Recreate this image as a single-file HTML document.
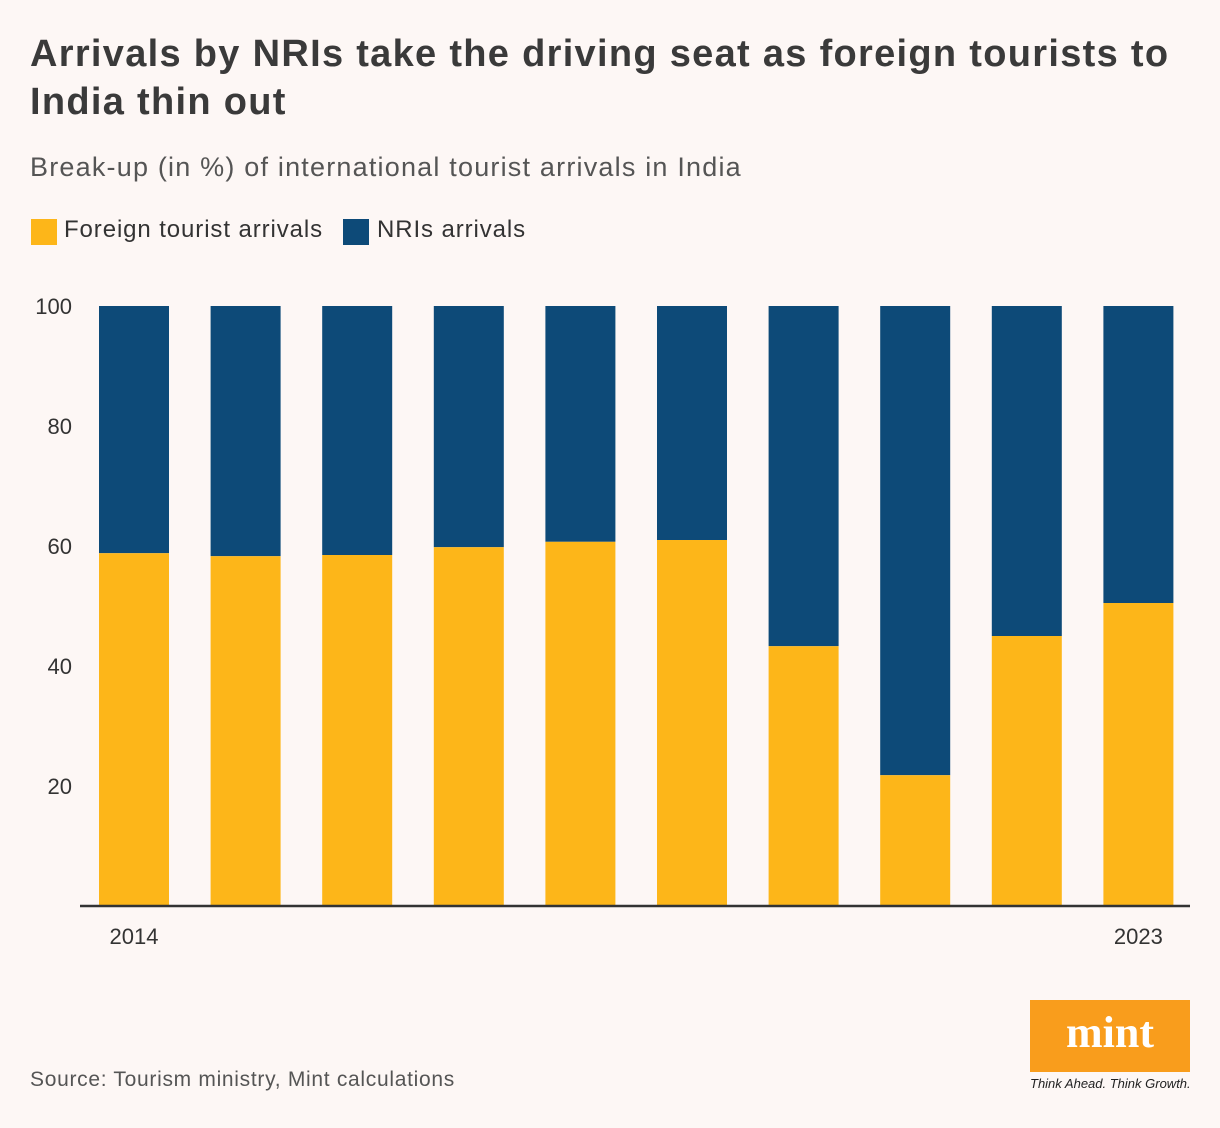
<!DOCTYPE html>
<html><head><meta charset="utf-8"><style>
body{margin:0;background:#fdf7f5;}
#root{position:relative;width:1220px;height:1128px;background:#fdf7f5;font-family:"Liberation Sans",sans-serif;color:#333;overflow:hidden}
.t{position:absolute;white-space:nowrap}
</style></head><body>
<div id="root">
<div class="t" style="left:30px;top:30px;font-size:38px;font-weight:bold;line-height:48px;color:#3a3a3a;letter-spacing:1.3px">Arrivals by NRIs take the driving seat as foreign tourists to<br>India thin out</div>
<div class="t" style="left:30px;top:152px;font-size:27px;color:#555;letter-spacing:1.2px">Break-up (in %) of international tourist arrivals in India</div>
<div style="position:absolute;left:31px;top:219px;width:26px;height:26px;background:#fdb619"></div>
<div class="t" style="left:64px;top:216px;font-size:24px;color:#333;letter-spacing:0.9px">Foreign tourist arrivals</div>
<div style="position:absolute;left:343px;top:219px;width:26px;height:26px;background:#0d4a78"></div>
<div class="t" style="left:377px;top:216px;font-size:24px;color:#333;letter-spacing:0.9px">NRIs arrivals</div>
<svg id="chart" width="1220" height="1128" style="position:absolute;left:0;top:0" font-family="Liberation Sans, sans-serif"></svg>
<div class="t" style="left:30px;top:1068px;font-size:21px;color:#555;letter-spacing:0.7px">Source: Tourism ministry, Mint calculations</div>
<div style="position:absolute;left:1030px;top:1000px;width:160px;height:72px;background:#f99d1c;color:#fff;font-family:'Liberation Serif',serif;font-weight:bold;font-size:44px;text-align:center;line-height:66px">mint</div>
<div class="t" style="left:1030px;top:1076px;font-size:13px;font-style:italic;color:#222;letter-spacing:0px">Think Ahead. Think Growth.</div>
</div>
<script>
const years=["2014","2015","2016","2017","2018","2019","2020","2021","2022","2023"];
const foreign=[58.8,58.3,58.5,59.8,60.7,61,43.3,21.8,45,50.5];
const yTicks=[20,40,60,80,100];
const xLabels=["2014","","","","","","","","","2023"];
const svg=document.getElementById('chart');
const NS="http://www.w3.org/2000/svg";
const y=v=>906-v*6;
const x0=99,step=111.6,bw=70;
const x=i=>x0+i*step;
function mk(t,a){const e=document.createElementNS(NS,t);for(const k in a)e.setAttribute(k,a[k]);svg.appendChild(e);return e;}
yTicks.forEach(v=>{const t=mk('text',{x:72,y:y(v)+8,'text-anchor':'end','font-size':22,fill:'#333'});t.textContent=v;

});
years.forEach((yr,i)=>{
const f=foreign[i];
const n=mk('rect',{x:x(i),y:y(100),width:bw,height:y(f)-y(100),fill:'#0d4a78'});


const r=mk('rect',{x:x(i),y:y(f),width:bw,height:y(0)-y(f),fill:'#fdb619'});


if(xLabels[i]){const t=mk('text',{x:x(i)+bw/2,y:944,'text-anchor':'middle','font-size':22,fill:'#333'});t.textContent=xLabels[i];

}
});
const ax=mk('line',{x1:80,x2:1190,y1:906,y2:906,stroke:'#333','stroke-width':2.5});


</script>
</body></html>
